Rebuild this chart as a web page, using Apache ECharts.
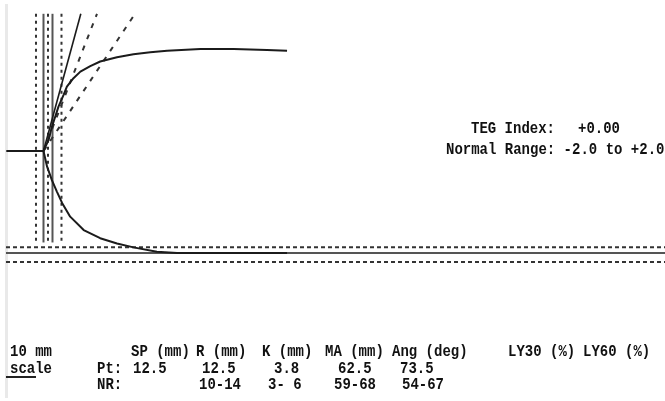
<!DOCTYPE html>
<html>
<head>
<meta charset="utf-8">
<script src="https://cdn.jsdelivr.net/npm/echarts@6/dist/echarts.min.js"></script>
<style>
  html, body { margin: 0; padding: 0; background: #fff; }
  #chart { width: 665px; height: 401px; }
</style>
</head>
<body>
<div id="chart"></div>
<script>
// TEG tracing: x = chart-paper time (mm), y = half amplitude (mm)
const upperTrace = [[0.1, 0], [12.5, 0], [14.2, 3.4], [15.3, 7.4], [16.4, 10.5], [17.5, 13.6], [19.2, 17.2],
  [20.3, 19.7], [22.5, 22.3], [24.8, 24.3], [28.1, 26.0], [31.4, 27.4], [37.0, 28.7], [42.5, 29.6],
  [48.1, 30.2], [53.7, 30.7], [64.8, 31.2], [75.9, 31.2], [87.0, 30.9], [93.7, 30.7]];
const lowerTrace = [[12.5, 0], [13.7, -4.8], [15.3, -8.9], [17.0, -12.5], [18.7, -15.9], [21.4, -20.1],
  [25.9, -24.2], [31.4, -26.7], [37.0, -28.3], [42.5, -29.5], [50.3, -30.85], [57.0, -31.25], [93.7, -31.25]];

// time markers (mm)
const dottedMarks = [10, 14, 18.5];
const solidMarks = [12.5, 15.5];
const markTop = 42;
const markBottom = -28;

// patient / normal values
const ptMA = 62.5;
const nrMA = [59, 68];
const ptR = 12.5;
const ptAngle = 73.5;
const nrAngle = [54, 67];
const tangentTop = 42;

// printed table
const scaleLabel = ['10 mm', 'scale'];
const headers = ['SP (mm)', 'R (mm)', 'K (mm)', 'MA (mm)', 'Ang (deg)', 'LY30 (%)', 'LY60 (%)'];
const ptValues = ['12.5', '12.5', '3.8', '62.5', '73.5', '', ''];
const nrValues = ['', '10-14', '3- 6', '59-68', '54-67', '', ''];
const indexLabel = 'TEG Index:';
const indexValue = '+0.00';
const rangeLabel = 'Normal Range: -2.0 to +2.0';
const scaleBarMm = 10;

const X_MAX = 219.7;
const ink = '#1b1b1b';

const chart = echarts.init(document.getElementById('chart'), null, { renderer: 'canvas' });

function seg(data, color, width, type, z) {
  return {
    type: 'line', data: data, showSymbol: false, symbol: 'none', silent: true, z: z || 2,
    lineStyle: { color: color, width: width, type: type || 'solid', cap: 'butt' }
  };
}

const series = [];
dottedMarks.forEach(t => series.push(seg([[t, markTop], [t, markBottom]], '#333', 2, [3, 4])));
solidMarks.forEach(t => series.push(seg([[t, markTop], [t, markBottom]], '#555', 2, 'solid')));
// MA lines
nrMA.forEach(v => series.push(seg([[0, -v / 2], [X_MAX, -v / 2]], '#333', 2, [4, 3])));
series.push(seg([[0, -ptMA / 2], [X_MAX, -ptMA / 2]], '#555', 2, 'solid'));
// angle tangents from the R point
function tangent(angle) {
  return [[ptR, 0], [ptR + tangentTop / Math.tan(angle * Math.PI / 180), tangentTop]];
}
nrAngle.forEach(a => series.push(seg(tangent(a), '#333', 2, [5, 7])));
series.push(seg(tangent(ptAngle), ink, 1.6, 'solid', 3));
// trace
series.push(seg(upperTrace, ink, 2, 'solid', 4));
series.push(seg(lowerTrace, ink, 2, 'solid', 4));

function txt(text, x, y) {
  return {
    type: 'text', x: x, y: y, scaleY: 1.15, silent: true,
    style: {
      text: text, fill: '#111', verticalAlign: 'middle', textVerticalAlign: 'middle',
      fontFamily: 'Liberation Mono', fontWeight: 'bold', fontSize: 14
    }
  };
}

const headerX = [131, 196, 262, 325, 392, 508, 583];
const ptX = [133, 202, 274, 338, 400];
const nrX = [199, 268, 334, 402];
const rowY = [352, 369, 385];

const graphics = [
  { type: 'rect', shape: { x: 5, y: 4, width: 3, height: 394 }, style: { fill: '#e9e9e9' }, silent: true, z: 0 },
  txt(indexLabel, 471, 129),
  txt(indexValue, 578, 129),
  txt(rangeLabel, 446, 150),
  txt(scaleLabel[0], 10, rowY[0]),
  txt(scaleLabel[1], 10, rowY[1]),
  txt('Pt:', 97, rowY[1]),
  txt('NR:', 97, rowY[2])
];
headers.forEach((h, i) => graphics.push(txt(h, headerX[i], rowY[0])));
ptValues.forEach((v, i) => { if (v) graphics.push(txt(v, ptX[i], rowY[1])); });
nrValues.forEach((v, i) => { if (v) graphics.push(txt(v, nrX[i - 1], rowY[2])); });

chart.setOption({
  animation: false,
  backgroundColor: '#fff',
  grid: { left: 6, right: 0, top: 4, bottom: 103 },
  xAxis: { type: 'value', min: 0, max: X_MAX, show: false },
  yAxis: { type: 'value', min: -45, max: 45, show: false },
  series: series,
  graphic: graphics
});

// 10 mm scale bar under "scale", measured through the x axis
const x0 = chart.convertToPixel({ xAxisIndex: 0 }, 0);
const x1 = chart.convertToPixel({ xAxisIndex: 0 }, scaleBarMm);
graphics.push({
  type: 'line', silent: true,
  shape: { x1: x0, y1: 377, x2: x1, y2: 377 },
  style: { stroke: '#222', lineWidth: 2 }
});
chart.setOption({ graphic: graphics });
</script>
</body>
</html>
